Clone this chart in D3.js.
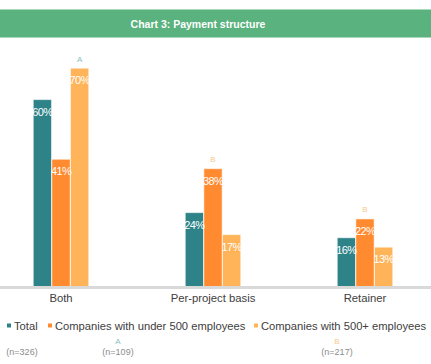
<!DOCTYPE html>
<html>
<head>
<meta charset="utf-8">
<script src="https://cdn.jsdelivr.net/npm/d3@7"></script>
<style>
  body { margin: 0; background: #fff; }
  svg { display: block; font-family: "Liberation Sans", Arial, sans-serif; }
</style>
</head>
<body>
<div id="chart"></div>
<script>
// chart data
const categories = ['Both', 'Per-project basis', 'Retainer'];
const seriesNames = ['Total', 'Companies with under 500 employees', 'Companies with 500+ employees'];
const total = [60, 24, 16];
const under500 = [41, 38, 22];
const over500 = [70, 17, 13];
// significance letters shown above bars (series index, letter)
const sigLetters = [[{ s: 2, t: 'A' }], [{ s: 1, t: 'B' }], [{ s: 1, t: 'B' }]];
const baseLabels = ['(n=326)', '(n=109)', '(n=217)'];
const baseLetters = ['', 'A', 'B'];

const W = 431, H = 364;
const colors = ['#2e8389', '#ff8a2f', '#ffb45a'];
const letterColors = { A: '#86c1c3', B: '#f7c98c' };

const svg = d3.select('#chart').append('svg')
    .attr('width', W)
    .attr('height', H);

// title bar
svg.append('rect')
    .attr('x', 0).attr('y', 9)
    .attr('width', W).attr('height', 29)
    .attr('fill', '#5ab27e');
svg.append('line')
    .attr('x1', 0).attr('x2', W).attr('y1', 9.5).attr('y2', 9.5)
    .attr('stroke', '#a9d8bb');
svg.append('line')
    .attr('x1', 0).attr('x2', W).attr('y1', 37.5).attr('y2', 37.5)
    .attr('stroke', '#a9d8bb');
svg.append('text')
    .attr('x', 198).attr('y', 24)
    .attr('text-anchor', 'middle')
    .attr('dominant-baseline', 'central')
    .attr('fill', '#fff')
    .attr('font-weight', 'bold')
    .attr('font-size', 10.5)
    .text('Chart 3: Payment structure');

const rows = categories.map((c, i) => ({ cat: c, values: [total[i], under500[i], over500[i]] }));

const x0 = d3.scaleBand()
    .domain(categories)
    .range([-15, 441])
    .paddingInner(0.63)
    .paddingOuter(0.315);

const x1 = d3.scaleBand()
    .domain(d3.range(seriesNames.length))
    .range([0, x0.bandwidth()])
    .padding(0.02);

const y = d3.scaleLinear()
    .domain([0, 80])
    .range([288, 36.8]);

const groups = svg.append('g')
    .selectAll('g')
    .data(rows)
    .join('g')
    .attr('transform', d => `translate(${x0(d.cat)},0)`);

groups.selectAll('rect')
    .data(d => d.values.map((v, s) => ({ v, s })))
    .join('rect')
    .attr('x', d => x1(d.s))
    .attr('y', d => y(d.v))
    .attr('width', x1.bandwidth())
    .attr('height', d => y(0) - y(d.v))
    .attr('fill', d => colors[d.s])
    .attr('stroke', 'rgba(255,255,255,0.55)')
    .attr('stroke-width', 1);

groups.selectAll('text.val')
    .data(d => d.values.map((v, s) => ({ v, s })))
    .join('text')
    .attr('class', 'val')
    .attr('x', d => x1(d.s) + x1.bandwidth() / 2)
    .attr('y', d => y(d.v) + 12)
    .attr('text-anchor', 'middle')
    .attr('dominant-baseline', 'central')
    .attr('fill', '#fff')
    .attr('font-size', 11)
    .attr('letter-spacing', -0.6)
    .text(d => d.v + '%');

groups.selectAll('text.sig')
    .data((d, i) => sigLetters[i].map(l => ({ ...l, v: d.values[l.s] })))
    .join('text')
    .attr('class', 'sig')
    .attr('x', d => x1(d.s) + x1.bandwidth() / 2)
    .attr('y', d => y(d.v) - 9)
    .attr('text-anchor', 'middle')
    .attr('dominant-baseline', 'central')
    .attr('fill', d => letterColors[d.t])
    .attr('font-size', 8)
    .text(d => d.t);

// baseline axis
const xAxis = svg.append('g')
    .attr('transform', 'translate(0,287.5)')
    .call(d3.axisBottom(x0).tickSize(0).tickPadding(6.5));
xAxis.select('.domain').remove();
xAxis.append('line')
    .attr('x1', 0).attr('x2', W)
    .attr('y1', 0).attr('y2', 0)
    .attr('stroke', '#d9d9d9')
    .attr('stroke-width', 3);
xAxis.selectAll('.tick text')
    .attr('font-family', '"Liberation Sans", Arial, sans-serif')
    .attr('font-size', 11.3)
    .attr('fill', '#404040');

// legend
const legendX = [7, 48, 254];
const legend = svg.append('g')
    .selectAll('g')
    .data(seriesNames)
    .join('g')
    .attr('transform', (d, i) => `translate(${legendX[i]},326)`);
legend.append('rect')
    .attr('x', 0).attr('y', -2.5)
    .attr('width', 4).attr('height', 4)
    .attr('fill', (d, i) => colors[i]);
legend.append('text')
    .attr('x', 7)
    .attr('y', 0)
    .attr('dominant-baseline', 'central')
    .attr('font-size', 11.2)
    .attr('fill', '#404040')
    .text(d => d);

// base sizes under legend
const baseX = [22, 118, 337];
const base = svg.append('g')
    .selectAll('g')
    .data(baseLabels)
    .join('g')
    .attr('transform', (d, i) => `translate(${baseX[i]},0)`);
base.append('text')
    .attr('y', 341)
    .attr('text-anchor', 'middle')
    .attr('dominant-baseline', 'central')
    .attr('font-size', 8)
    .attr('fill', (d, i) => letterColors[baseLetters[i]] || '#999')
    .text((d, i) => baseLetters[i]);
base.append('text')
    .attr('y', 352)
    .attr('text-anchor', 'middle')
    .attr('dominant-baseline', 'central')
    .attr('font-size', 9)
    .attr('fill', '#8c8c8c')
    .text(d => d);
</script>
</body>
</html>
